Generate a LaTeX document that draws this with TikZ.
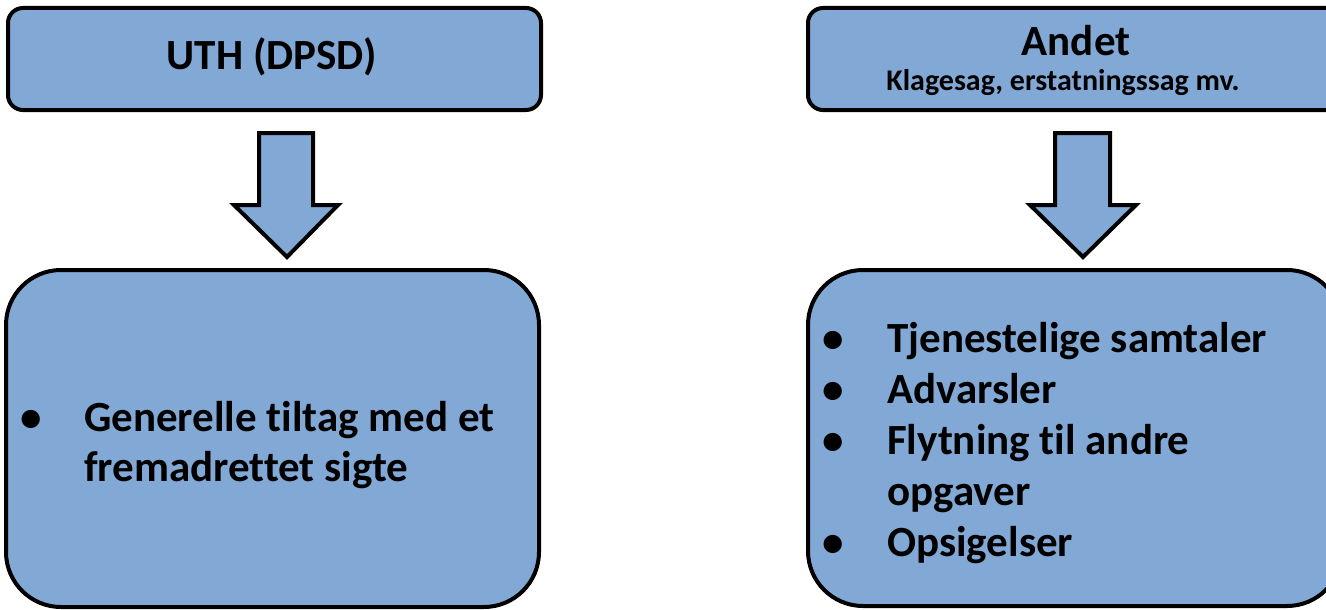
\documentclass[tikz,border=0pt]{standalone}
\usepackage{fontspec}
\setmainfont[Ligatures=NoCommon]{Carlito}
\definecolor{boxfill}{RGB}{130,168,213}
\tikzset{
  box/.style={draw=black, line width=4pt, fill=boxfill},
  blockarrow/.style={draw=black, line width=4pt, fill=boxfill, line join=miter},
  txt/.style={inner sep=0pt, anchor=base, font=\bfseries\fontsize{43}{50}\selectfont},
  bul/.style={inner sep=0pt, anchor=base, font=\bfseries\fontsize{43}{50}\selectfont},
  line/.style={inner sep=0pt, anchor=base west, font=\bfseries\fontsize{43}{50}\selectfont}
}
\begin{document}
\begin{tikzpicture}[x=1pt,y=-1pt]
\useasboundingbox (0,0) rectangle (1326,610);
\clip (0,0) rectangle (1326,610);
% top boxes
\draw[box, rounded corners=15pt] (8,8) rectangle (541,110);
\node[txt] (uth) at (272,70) {UTH (DPSD)};
\draw[box, rounded corners=15pt] (808,8) rectangle (1345,110);
\node[txt] (andet) at (1076,56) {Andet};
\node[inner sep=0pt, anchor=base, font=\bfseries\fontsize{30}{34}\selectfont] (klage) at (1063,91) {Klagesag, erstatningssag mv.};
% arrows
\coordinate (la) at (287,257);
\draw[blockarrow] (259,133) -- (313,133) -- (313,205) -- (338,205) -- (la) -- (234,205) -- (259,205) -- cycle;
\coordinate (ra) at (1083,257);
\draw[blockarrow] (1055,133) -- (1110,133) -- (1110,205) -- (1136,205) -- (ra) -- (1030,205) -- (1055,205) -- cycle;
% bottom boxes
\draw[box, rounded corners=55pt] (6,270) rectangle (539,607);
\node[bul] (lb1) at (31,431) {•};
\node[line] (lt1) at (84,431) {Generelle tiltag med et};
\node[line] (lt2) at (84,481) {fremadrettet sigte};
\draw[box, rounded corners=55pt] (808,270) rectangle (1342,606);
\node[bul] (rb1) at (833,352) {•};
\node[line] (rt1) at (887,352) {Tjenestelige samtaler};
\node[bul] (rb2) at (833,403) {•};
\node[line] (rt2) at (887,403) {Advarsler};
\node[bul] (rb3) at (833,454) {•};
\node[line] (rt3) at (887,454) {Flytning til andre};
\node[line] (rt4) at (887,505) {opgaver};
\node[bul] (rb5) at (833,556) {•};
\node[line] (rt5) at (887,556) {Opsigelser};
\end{tikzpicture}
\end{document}
